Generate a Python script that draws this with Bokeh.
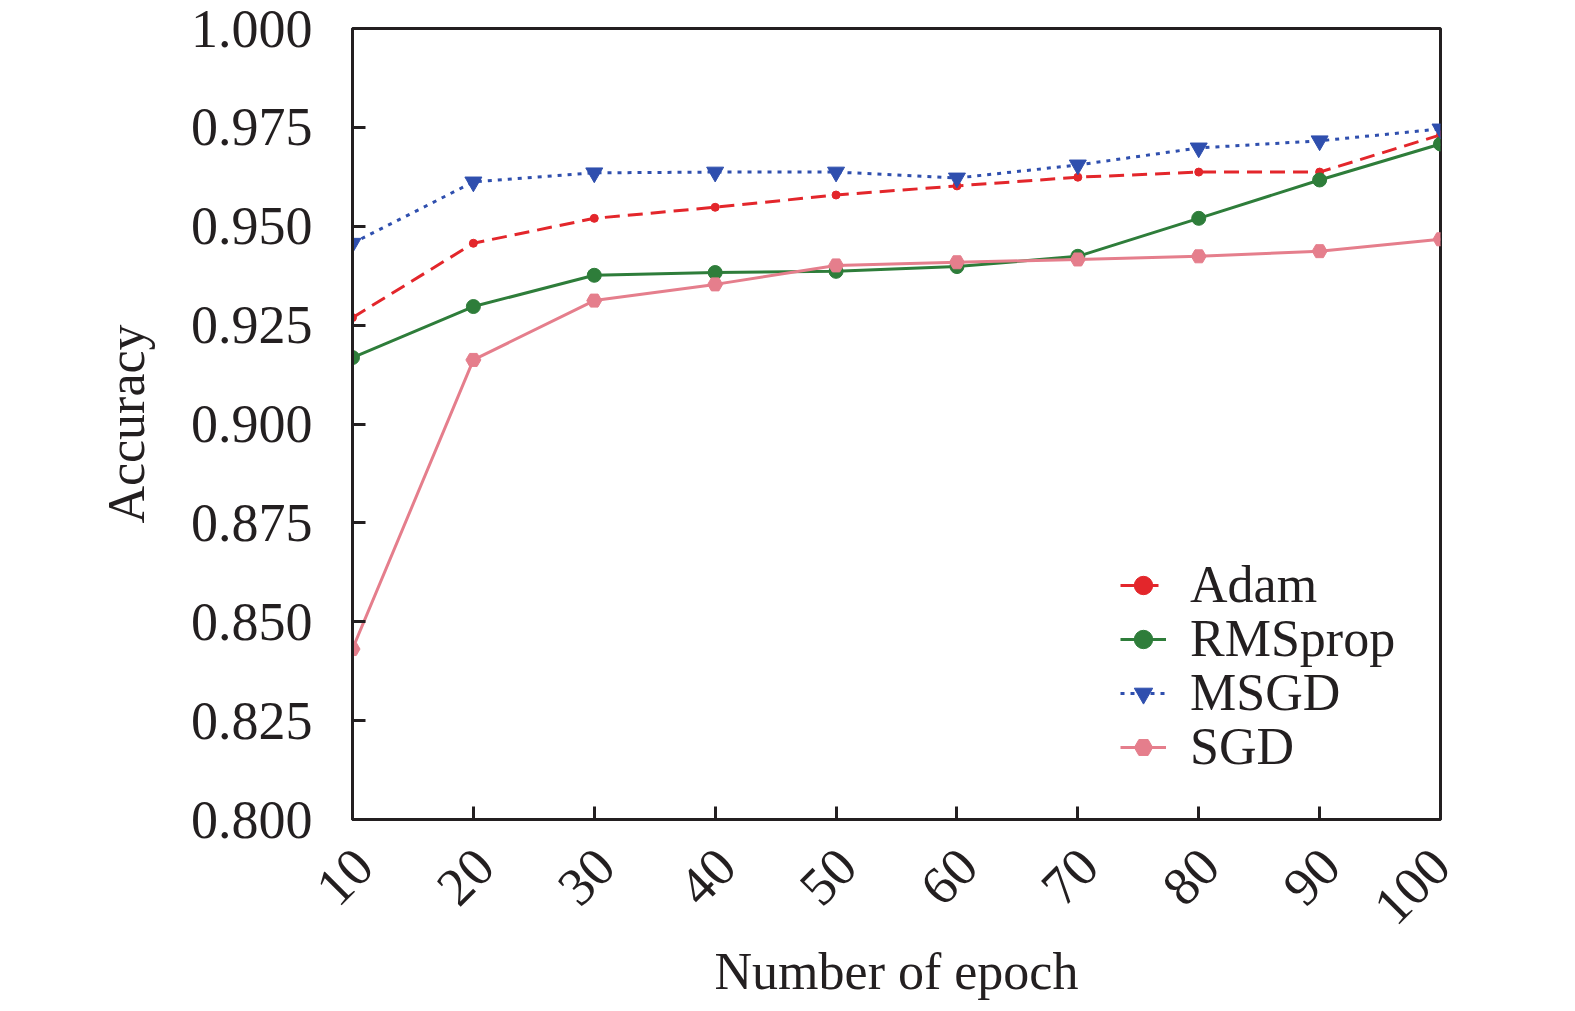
from math import pi

from bokeh.plotting import figure
from bokeh.models import (NumeralTickFormatter, FixedTicker, Range1d, LinearAxis,
                          Legend, LegendItem)
from bokeh.embed import file_html
from bokeh.resources import INLINE


epochs = [10, 20, 30, 40, 50, 60, 70, 80, 90, 100]
adam = [0.9269, 0.9457, 0.9520, 0.9548, 0.9579, 0.9602, 0.9624, 0.9637, 0.9637, 0.9731]
rmsprop = [0.9168, 0.9297, 0.9376, 0.9383, 0.9386, 0.9398, 0.9424, 0.9520, 0.9617, 0.9708]
msgd = [0.9457, 0.9612, 0.9635, 0.9637, 0.9637, 0.9622, 0.9655, 0.9698, 0.9716, 0.9746]
sgd = [0.8431, 0.9162, 0.9312, 0.9353, 0.9401, 0.9409, 0.9416, 0.9424, 0.9437, 0.9467]
y_ticks = [0.800, 0.825, 0.850, 0.875, 0.900, 0.925, 0.950, 0.975, 1.000]
labels = ["10", "20", "30", "40", "50", "60", "70", "80", "90", "100"]

FONT = "Liberation Serif"
INK = "#231f20"

p = figure(width=1560, height=1003, output_backend="svg", toolbar_location=None,
           x_range=Range1d(10, 100), y_range=Range1d(0.8, 1.0),
           y_axis_label="Accuracy",
           min_border_left=352, min_border_top=28, min_border_right=120,
           min_border_bottom=182)

r_adam = [p.line(epochs, adam, color="#e3262b", line_width=3, line_dash="15 8"),
          p.scatter(epochs, adam, marker="circle", size=8, color="#e3262b")]
r_rms = [p.line(epochs, rmsprop, color="#2e7d3a", line_width=3),
         p.scatter(epochs, rmsprop, marker="circle", size=14, color="#2e7d3a")]
r_msgd = [p.line(epochs, msgd, color="#2f4fae", line_width=3, line_dash="4 6"),
          p.scatter(epochs, msgd, marker="inverted_triangle", size=17, color="#2f4fae")]
r_sgd = [p.line(epochs, sgd, color="#e57e8c", line_width=3),
         p.scatter(epochs, sgd, marker="hex", size=15, color="#e57e8c")]

p.xgrid.grid_line_color = None
p.ygrid.grid_line_color = None
p.outline_line_color = INK
p.outline_line_width = 3
p.background_fill_color = "white"
p.border_fill_color = "white"


def style(ax):
    ax.axis_line_color = INK
    ax.axis_line_width = 3
    ax.major_tick_line_color = INK
    ax.major_tick_line_width = 3
    ax.major_tick_in = 13
    ax.major_tick_out = 0
    ax.minor_tick_line_color = None
    ax.major_label_text_font = FONT
    ax.major_label_text_font_size = "54px"
    ax.major_label_text_color = INK
    ax.axis_label_text_font = FONT
    ax.axis_label_text_font_size = "52px"
    ax.axis_label_text_font_style = "normal"
    ax.axis_label_text_color = INK


# bottom axis next to the frame: tick marks only
xa = p.xaxis[0]
style(xa)
xa.ticker = FixedTicker(ticks=epochs)
xa.major_label_overrides = {e: "" for e in epochs}
xa.major_label_text_font_size = "1px"
xa.major_label_standoff = 0

# outer bottom axis: rotated labels, nudged right to sit centred under the ticks
shift = [0.92] * 9 + [0.0]
lab_ticks = [e + s for e, s in zip(epochs, shift)]
xl = LinearAxis(ticker=FixedTicker(ticks=lab_ticks), axis_label="Number of epoch")
style(xl)
xl.axis_line_color = None
xl.major_tick_line_color = None
xl.major_label_overrides = {t: s for t, s in zip(lab_ticks, labels)}
xl.major_label_orientation = pi / 4
xl.major_label_standoff = 38
xl.axis_label_standoff = 0
p.add_layout(xl, "below")

ya = p.yaxis[0]
style(ya)
ya.ticker = FixedTicker(ticks=y_ticks)
ya.formatter = NumeralTickFormatter(format="0.000")
ya.major_label_standoff = 40
ya.axis_label_standoff = 33

rows = [("Adam", r_adam, 205), ("RMSprop", r_rms, 151),
        ("MSGD", r_msgd, 97), ("SGD", r_sgd, 43)]
for name, rends, ypos in rows:
    leg = Legend(items=[LegendItem(label=name, renderers=rends)], location=(768, ypos))
    leg.border_line_color = None
    leg.background_fill_alpha = 0
    leg.label_text_font = FONT
    leg.label_text_font_size = "52px"
    leg.label_text_color = INK
    leg.glyph_width = 46
    leg.glyph_height = 54
    leg.label_height = 54
    leg.label_standoff = 24
    leg.padding = 0
    leg.margin = 0
    p.add_layout(leg)

open("out.html", "w").write(file_html(p, INLINE))
